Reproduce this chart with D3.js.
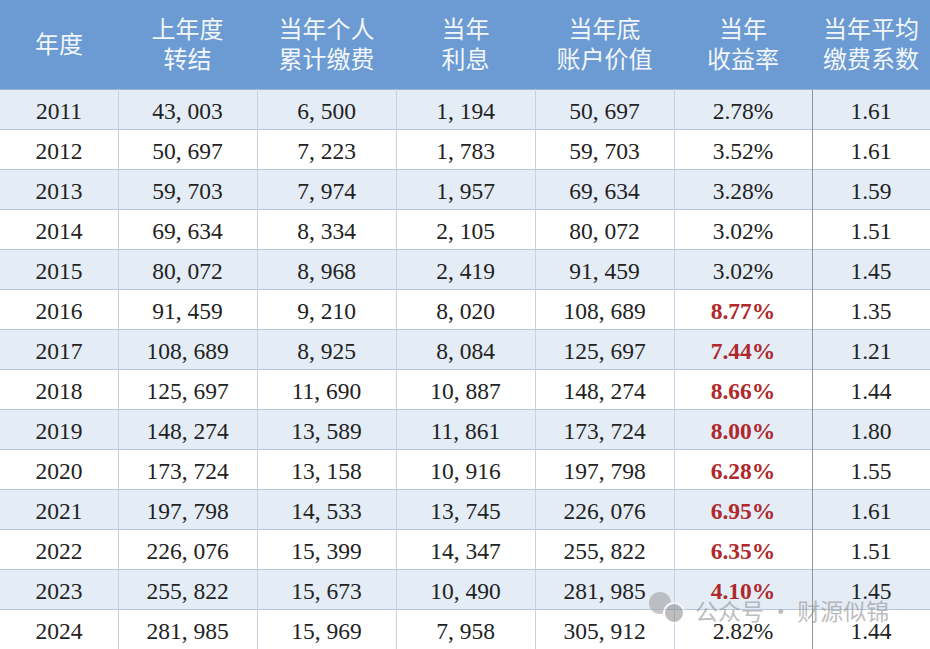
<!DOCTYPE html>
<html><head><meta charset="utf-8">
<script src="https://cdn.jsdelivr.net/npm/d3@7"></script>
<style>body{margin:0;background:#fff}</style>
</head><body><svg id="t"></svg>
<script>
const headers = [["年度"], ["上年度", "转结"], ["当年个人", "累计缴费"], ["当年", "利息"], ["当年底", "账户价值"], ["当年", "收益率"], ["当年平均", "缴费系数"]];
const years = [2011,2012,2013,2014,2015,2016,2017,2018,2019,2020,2021,2022,2023,2024];
const carry = [43003,50697,59703,69634,80072,91459,108689,125697,148274,173724,197798,226076,255822,281985];
const paid = [6500,7223,7974,8334,8968,9210,8925,11690,13589,13158,14533,15399,15673,15969];
const interest = [1194,1783,1957,2105,2419,8020,8084,10887,11861,10916,13745,14347,10490,7958];
const endValue = [50697,59703,69634,80072,91459,108689,125697,148274,173724,197798,226076,255822,281985,305912];
const rate = ["2.78%","3.52%","3.28%","3.02%","3.02%","8.77%","7.44%","8.66%","8.00%","6.28%","6.95%","6.35%","4.10%","2.82%"];
const coef = ["1.61","1.61","1.59","1.51","1.45","1.35","1.21","1.44","1.80","1.55","1.61","1.51","1.45","1.44"];
const highlight = [2016,2017,2018,2019,2020,2021,2022,2023];

const W = 930, H = 649, headH = 89, rowH = 40;
const colEdges = [0,118,257,396,535,674,812,930];
const fmt = v => d3.format(",")(v).replace(/,/g, ", ");
const svg = d3.select("#t").attr("width", W).attr("height", H);

svg.append("rect").attr("width", W).attr("height", headH).attr("fill", "#6b9bd2");
headers.forEach((h, i) => {
  const cx = (colEdges[i] + colEdges[i+1]) / 2;
  const t = svg.append("text").attr("x", cx).attr("text-anchor", "middle")
    .attr("fill", "#f2f6fb").attr("font-family", "Noto Sans CJK SC").attr("font-size", 24);
  h.forEach((line, j) => {
    const y = h.length === 1 ? 53 : 38 + j * 30;
    t.append("tspan").attr("x", cx).attr("y", y).text(line);
  });
});

const y = d3.scaleBand().domain(years).range([headH + 1, headH + 1 + rowH * years.length]).padding(0);
const rows = svg.selectAll("g.row").data(years).join("g").attr("class", "row")
  .attr("transform", d => `translate(0,${y(d)})`);
rows.append("rect").attr("width", W).attr("height", rowH)
  .attr("fill", (d, i) => i % 2 === 0 ? "#e4ecf6" : "#ffffff");

const cols = [years.map(String), carry.map(fmt), paid.map(fmt), interest.map(fmt), endValue.map(fmt), rate, coef];
rows.each(function(d, r) {
  const g = d3.select(this);
  cols.forEach((c, i) => {
    const hl = i === 5 && highlight.includes(d);
    g.append("text").attr("x", (colEdges[i] + colEdges[i+1]) / 2).attr("y", 29)
      .attr("text-anchor", "middle").attr("font-family", "Liberation Serif, DejaVu Serif")
      .attr("font-size", 23.5).attr("font-weight", hl ? "bold" : "normal")
      .attr("fill", hl ? "#b0282c" : "#222").text(c[r]);
  });
});

// grid lines
years.forEach(d => svg.append("line").attr("x1", 0).attr("x2", W)
  .attr("y1", y(d) + rowH - 0.5).attr("y2", y(d) + rowH - 0.5).attr("stroke", "#b9c9dd"));
svg.append("line").attr("x1", 0).attr("x2", W).attr("y1", headH + 0.5).attr("y2", headH + 0.5).attr("stroke", "#9fb6d3");
colEdges.slice(1, -1).forEach((x, i) => svg.append("line").attr("x1", x + 0.5).attr("x2", x + 0.5)
  .attr("y1", headH).attr("y2", H).attr("stroke", i === 5 ? "#8a97a8" : "#c4d2e3"));

// watermark (overlaps the last rows, as in the source image)
const wm = svg.append("g").attr("opacity", 0.55);
wm.append("circle").attr("cx", 660).attr("cy", 603).attr("r", 11).attr("fill", "#9a9a9a");
wm.append("circle").attr("cx", 674).attr("cy", 613).attr("r", 10).attr("fill", "#8a8a8a").attr("stroke", "#fff").attr("stroke-width", 2);
wm.append("text").attr("x", 695).attr("y", 620).attr("font-family", "Noto Sans CJK SC").attr("font-size", 23)
  .attr("fill", "#8a8a8a").text("公众号 · 财源似锦");
</script></body></html>
